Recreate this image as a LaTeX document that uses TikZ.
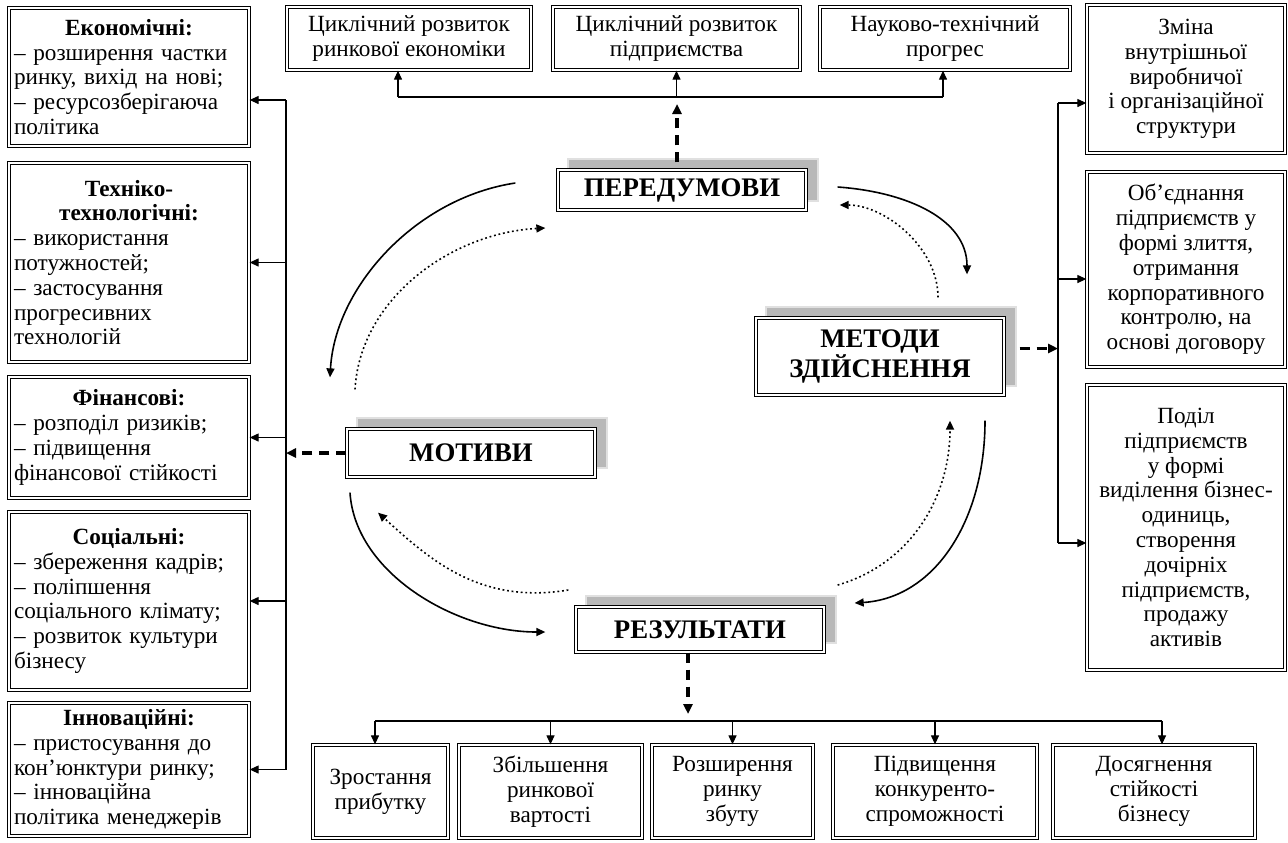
\documentclass[tikz,border=0pt]{standalone}
\usepackage{fontspec}
\setmainfont{Liberation Serif}
\usetikzlibrary{arrows.meta,backgrounds}

\newcommand\hd[1]{\hspace*{\fill}\textbf{#1}\hspace*{\fill}\mbox{}}

\begin{document}
\begin{tikzpicture}[x=0.5pt,y=-0.5pt,
    txt/.style={font=\fontsize{11.6}{12.4}\selectfont},
    dbox/.style={draw, fill=white, double, double distance=0.9pt, line width=0.65pt, inner sep=2pt, txt},
    lbox/.style={dbox, text width=115pt, align=left, minimum width=120pt},
    cbox/.style={dbox, align=center},
    main/.style={dbox, align=center, minimum width=124pt, font=\fontsize{13.4}{15}\selectfont\bfseries},
    shade/.style={fill=black!28, draw=black!12, line width=1pt},
    ln/.style={line width=0.6pt},
    arr/.style={ln, -{Triangle[length=4.5pt,width=4pt]}},
    dasharr/.style={-{Triangle[length=5pt,width=4.5pt]}, line width=1.8pt, dash pattern=on 5pt off 3.5pt},
    cyc/.style={-{Triangle[length=4.5pt,width=4pt]}, line width=0.8pt},
    cycdot/.style={cyc, dash pattern=on 0.9pt off 1.4pt},
  ]
  \useasboundingbox (0,0) rectangle (1288,842);

  % motives
  \node[lbox, minimum height=69pt] (eco) at (129,77)
    {\hd{Економічні:}\\– розширення частки\\ринку, вихід на нові;\\– ресурсозберігаюча\\політика};
  \node[lbox, minimum height=99.5pt] (tech) at (129,262.5)
    {\hd{Техніко-}\\\hd{технологічні:}\\– використання\\потужностей;\\– застосування\\прогресивних\\технологій};
  \node[lbox, minimum height=60.5pt] (fin) at (129,437.5)
    {\hd{Фінансові:}\\– розподіл ризиків;\\– підвищення\\фінансової стійкості};
  \node[lbox, minimum height=89pt] (soc) at (129,601)
    {\hd{Соціальні:}\\– збереження кадрів;\\– поліпшення\\соціального клімату;\\– розвиток культури\\бізнесу};
  \node[lbox, minimum height=66.5pt] (inn) at (129,769.5)
    {\hd{Інноваційні:}\\– пристосування до\\кон’юнктури ринку;\\– інноваційна\\політика менеджерів};

  % preconditions
  \node[cbox, minimum width=122pt, minimum height=31.5pt] (cyc1) at (409,38.5) {Циклічний розвиток\\ринкової економіки};
  \node[cbox, minimum width=123.5pt, minimum height=31.5pt] (cyc2) at (676.5,38.5) {Циклічний розвиток\\підприємства};
  \node[cbox, minimum width=125pt, minimum height=31.5pt] (nauk) at (945,38.5) {Науково-технічний\\прогрес};

  % methods
  \node[cbox, minimum width=99pt, minimum height=74pt] (zmina) at (1186,79)
    {Зміна\\внутрішньої\\виробничої\\і організаційної\\структури};
  \node[cbox, minimum width=99pt, minimum height=97.5pt] (obed) at (1186,269.5)
    {Об’єднання\\підприємств у\\формі злиття,\\отримання\\корпоративного\\контролю, на\\основі договору};
  \node[cbox, minimum width=99pt, minimum height=142.5pt] (podil) at (1186,527.5)
    {Поділ\\підприємств\\у формі\\виділення бізнес-\\одиниць,\\створення\\дочірніх\\підприємств,\\продажу\\активів};

  % results
  \node[cbox, minimum width=67.5pt, minimum height=46.5pt] (zrost) at (380.5,791.5) {Зростання\\прибутку};
  \node[cbox, minimum width=91.5pt, minimum height=46.5pt] (zbil) at (550.5,791.5) {Збільшення\\ринкової\\вартості};
  \node[cbox, minimum width=80.5pt, minimum height=46.5pt] (rozsh) at (732.5,791.5) {Розширення\\ринку\\збуту};
  \node[cbox, minimum width=102pt, minimum height=46.5pt] (pidv) at (935,791.5) {Підвищення\\конкуренто-\\спроможності};
  \node[cbox, minimum width=101pt, minimum height=46.5pt] (dosyag) at (1154,791.5) {Досягнення\\стійкості\\бізнесу};

  % cycle
  \node[main, minimum height=20pt] (pre) at (682,190) {ПЕРЕДУМОВИ};
  \node[main, minimum height=38.5pt] (met) at (880,356.5) {МЕТОДИ\\ЗДІЙСНЕННЯ};
  \node[main, minimum height=24pt] (mot) at (471,453) {МОТИВИ};
  \node[main, minimum height=22.5pt] (res) at (700,629.5) {РЕЗУЛЬТАТИ};

  \begin{scope}[on background layer]
    \foreach \n in {pre,met,mot,res}
      \draw[shade] ([shift={(11,-10)}]\n.south west) rectangle ([shift={(11,-10)}]\n.north east);
  \end{scope}

  \draw[cyc] ([shift={(31,-3)}]pre.east) .. controls +(70,5) and +(0,-55) .. ([shift={(87,-43)}]met.north);
  \draw[cycdot] ([shift={(58,-20)}]met.north) .. controls +(0,-50) and +(45,0) .. ([shift={(33,15)}]pre.east);
  \draw[cyc] ([shift={(-42,-7)}]pre.west) .. controls +(-100,15) and +(5,-90) .. ([shift={(-141,-51)}]mot.north);
  \draw[cycdot] ([shift={(-116,-39)}]mot.north) .. controls +(5,-90) and +(-95,5) .. ([shift={(-12,38)}]pre.west);
  \draw[cyc] ([shift={(-121,15)}]mot.south) .. controls +(5,80) and +(-90,0) .. ([shift={(-30,2.5)}]res.west);
  \draw[cycdot] ([shift={(-7,-39.5)}]res.west) .. controls +(-90,15) and +(50,45) .. ([shift={(-93,35)}]mot.south);
  \draw[cyc] ([shift={(105,25)}]met.south) .. controls +(0,100) and +(80,-5) .. ([shift={(30,-26.5)}]res.east);
  \draw[cycdot] ([shift={(13,-44.5)}]res.east) .. controls +(70,-20) and +(0,80) .. ([shift={(70,25)}]met.south);

  % left bus
  \coordinate (lt) at (286,100);
  \coordinate (lb) at (286,770);
  \draw[ln] (lt) -- (lb);
  \draw[arr] (lt) -- (lt -| eco.east);
  \foreach \n in {tech,fin,soc,inn}
    \draw[arr] (lt |- \n.east) -- (\n.east);
  \draw[dasharr] (mot.west) -- (lt |- mot.west);

  % top bus
  \coordinate (tl) at (398,97);
  \coordinate (tr) at (943,97);
  \coordinate (ptip) at (677,104);
  \draw[ln] (tl) -- (tr);
  \draw[arr] (tl) -- (tl |- cyc1.south);
  \draw[arr] (cyc2.south |- tl) -- (cyc2.south);
  \draw[arr] (tr) -- (tr |- nauk.south);
  \draw[dasharr] ([shift={(-5,-7)}]pre.north) -- (ptip);

  % right bus
  \coordinate (rt) at (1058,103);
  \coordinate (rm) at (1058,279);
  \coordinate (rb) at (1058,543);
  \coordinate (mdash) at ([shift={(15,-8)}]met.east);
  \draw[ln] (rt) -- (rb);
  \draw[arr] (rt) -- (rt -| zmina.west);
  \draw[arr] (rm) -- (rm -| obed.west);
  \draw[arr] (rb) -- (rb -| podil.west);
  \draw[dasharr] (mdash) -- (rt |- mdash);

  % bottom bus
  \coordinate (bl) at (375,721);
  \coordinate (br) at (1162,721);
  \coordinate (rtip) at (688,714);
  \draw[ln] (bl) -- (br);
  \draw[dasharr] ([xshift=-6pt]res.south) -- (rtip);
  \draw[arr] (bl) -- (bl |- zrost.north);
  \draw[arr] (br) -- (br |- dosyag.north);
  \foreach \n in {zbil,rozsh,pidv}
    \draw[arr] (\n.north |- bl) -- (\n.north);
\end{tikzpicture}
\end{document}
